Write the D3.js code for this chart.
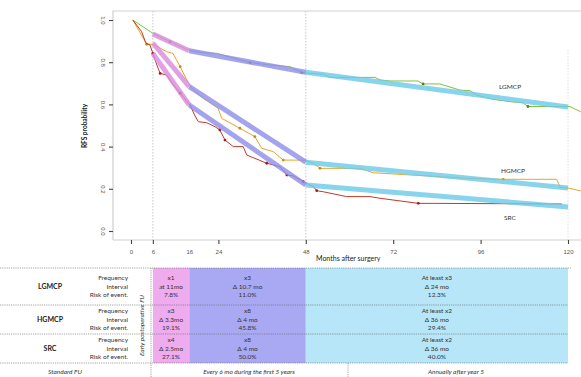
<!DOCTYPE html>
<html lang="en">
<head>
<meta charset="UTF-8">
<title>RFS probability and follow-up schedule</title>
<script src="https://d3js.org/d3.v7.min.js"></script>
<style>
  body { margin: 0; background: #fff; }
  svg { display: block; font-family: Lato, "Open Sans", sans-serif; }
</style>
</head>
<body>
<svg id="chart" width="581" height="377"></svg>
<script>
// ---- data ----
const groups = ['LGMCP', 'HGMCP', 'SRC'];

const lgmcpMonths = [0.5, 6, 10.7, 16.2, 19.8, 23.5, 32.7, 38.2, 43.7, 46.9, 52.7, 54.6, 67, 68.4, 71.1, 78.8, 80.2, 84.8, 90.3, 93.1, 94.9, 99.4, 104.1, 107.6, 109, 120.5, 123.5];
const lgmcpSurv   = [1.0, 0.937, 0.897, 0.855, 0.845, 0.842, 0.798, 0.787, 0.779, 0.750, 0.744, 0.728, 0.728, 0.716, 0.711, 0.711, 0.697, 0.697, 0.668, 0.665, 0.645, 0.624, 0.613, 0.608, 0.590, 0.590, 0.565];
const lgmcpMarks  = [10.7, 32.7, 46.9, 80.2, 109];

const hgmcpMonths = [0.5, 4.3, 6, 9.8, 11.5, 13.5, 15.3, 16.7, 19.8, 23.9, 24.9, 29.9, 34, 35.9, 39.1, 41.8, 47.8, 50.1, 51.9, 62.9, 66.5, 92.2, 102.2, 116.9, 117.8, 120.5, 123.5];
const hgmcpSurv   = [1.0, 0.885, 0.885, 0.850, 0.842, 0.779, 0.716, 0.676, 0.629, 0.582, 0.534, 0.487, 0.447, 0.392, 0.376, 0.336, 0.336, 0.321, 0.297, 0.297, 0.276, 0.250, 0.245, 0.245, 0.207, 0.202, 0.190];
const hgmcpMarks  = [4.3, 13.5, 29.9, 34, 41.8, 51.9, 102.2];

const srcMonths = [0.5, 2.9, 4.1, 5.2, 6, 7.1, 8, 9.8, 11.6, 13.5, 16.2, 17.6, 18.5, 20.8, 23.1, 24.4, 25.8, 28.1, 30.8, 31.8, 37.3, 40.9, 42.8, 44.6, 47.3, 50.1, 51, 52.8, 59.2, 65.6, 68.4, 78.9, 83, 118.3];
const srcSurv   = [1.0, 0.945, 0.890, 0.882, 0.842, 0.787, 0.747, 0.739, 0.692, 0.653, 0.597, 0.545, 0.518, 0.513, 0.494, 0.479, 0.431, 0.400, 0.400, 0.360, 0.321, 0.305, 0.265, 0.261, 0.234, 0.210, 0.191, 0.186, 0.163, 0.163, 0.155, 0.131, 0.131, 0.128];
const srcMarks  = [6, 8, 13.5, 24.4, 25.8, 37.3, 42.8, 47.3, 51, 78.9];

// piecewise fits: values at the phase breaks
const phaseBreaks = [6, 16, 48, 120];
const lgmcpFit = [0.934, 0.854, 0.752, 0.588];
const hgmcpFit = [0.891, 0.684, 0.326, 0.204];
const srcFit   = [0.842, 0.597, 0.218, 0.114];

const xTicks = [0, 6, 16, 24, 48, 72, 96, 120];
const yTicks = [0, 0.2, 0.4, 0.6, 0.8, 1.0];

// follow-up table
const rowLabels = ['Frequency', 'Interval', 'Risk of event.'];
const lgmcpCells = [['x1', 'at 11mo', '7.8%'], ['x3', 'Δ 10.7 mo', '11.0%'], ['At least x3', 'Δ 24 mo', '12.3%']];
const hgmcpCells = [['x3', 'Δ 3.3mo', '19.1%'], ['x8', 'Δ 4 mo', '45.8%'], ['At least x2', 'Δ 36 mo', '29.4%']];
const srcCells   = [['x4', 'Δ 2.5mo', '27.1%'], ['x8', 'Δ 4 mo', '50.0%'], ['At least  x2', 'Δ 36 mo', '40.0%']];
const footer = ['Standard FU', 'Every 6 mo during the first 5 years', 'Annually after year 5'];

// ---- drawing ----
const svg = d3.select('#chart');
const x = d3.scaleLinear().domain([0, 120]).range([131, 568]);
const y = d3.scaleLinear().domain([0, 1]).range([231, 20]);
const frame = { left: 113, top: 11, bottom: 240 };

const curveColors = ['#86bf3a', '#e6a526', '#c0392b'];
const markColors = ['#4f7f25', '#c98a12', '#9c1d1d'];
const phaseColors = ['#d98bdc', '#8f8fea', '#6ccbe8'];
const cellFills = ['#eeabee', '#a9a9f3', '#b6e6f7'];

const series = [
    { name: 'LGMCP', months: lgmcpMonths, surv: lgmcpSurv, marks: lgmcpMarks, fit: lgmcpFit, cells: lgmcpCells },
    { name: 'HGMCP', months: hgmcpMonths, surv: hgmcpSurv, marks: hgmcpMarks, fit: hgmcpFit, cells: hgmcpCells },
    { name: 'SRC', months: srcMonths, surv: srcSurv, marks: srcMarks, fit: srcFit, cells: srcCells }
];

// frame
svg.append('path')
    .attr('d', `M${frame.left},${frame.bottom}V${frame.top}H590`)
    .attr('fill', 'none').attr('stroke', '#cfcfcf').attr('stroke-width', 1.2);

// phase guides
[6, 48].forEach(m => {
    svg.append('line')
        .attr('x1', x(m)).attr('x2', x(m)).attr('y1', frame.top).attr('y2', frame.bottom)
        .attr('stroke', '#c8c8c8').attr('stroke-dasharray', '1.5,1.5');
});
svg.append('line')
    .attr('x1', x(120)).attr('x2', x(120)).attr('y1', 50).attr('y2', frame.bottom)
    .attr('stroke', '#dedede').attr('stroke-dasharray', '1.5,1.5');

// x axis
const xAxis = svg.append('g')
    .attr('transform', `translate(0,${frame.bottom})`)
    .call(d3.axisBottom(x).tickValues(xTicks).tickSize(4).tickPadding(6));
xAxis.select('.domain').attr('stroke', '#cfcfcf').attr('d', `M${frame.left},0H590`);
xAxis.selectAll('.tick line').attr('stroke', '#444').attr('stroke-width', 1.1)
    .filter(d => d === 16).remove();
xAxis.selectAll('.tick text').attr('fill', '#555').style('font-size', '6px');

svg.append('text')
    .attr('x', 316).attr('y', 261)
    .attr('fill', '#222').style('font-size', '7px')
    .text('Months after surgery');

// y axis
const yAxis = svg.append('g')
    .attr('transform', `translate(${frame.left},0)`)
    .call(d3.axisLeft(y).tickValues(yTicks).tickFormat(d3.format('.1f')).tickSize(4).tickPadding(0));
yAxis.select('.domain').remove();
yAxis.selectAll('.tick line').attr('stroke', '#444').attr('stroke-width', 1.1);
yAxis.selectAll('.tick text')
    .attr('fill', '#555').style('font-size', '6px')
    .attr('text-anchor', 'middle')
    .attr('transform', 'translate(-10,0) rotate(90)')
    .attr('x', 0).attr('dy', '0.35em');

svg.append('text')
    .attr('transform', 'translate(87,126) rotate(-90)')
    .attr('text-anchor', 'middle')
    .attr('fill', '#222').style('font-size', '6.5px').style('font-weight', 'bold')
    .text('RFS probability');

// KM-style curves
const line = d3.line().x(d => x(d[0])).y(d => y(d[1]));
series.forEach((s, i) => {
    const pts = s.months.map((m, k) => [m, s.surv[k]]);
    svg.append('path')
        .attr('d', line(pts))
        .attr('fill', 'none').attr('stroke', curveColors[i]).attr('stroke-width', 1);
    svg.selectAll(null)
        .data(s.marks.map(m => pts.find(p => p[0] === m)))
        .enter().append('circle')
        .attr('cx', d => x(d[0])).attr('cy', d => y(d[1])).attr('r', 1.4)
        .attr('fill', markColors[i]);
});

// piecewise fits by phase
series.forEach(s => {
    d3.range(3).forEach(p => {
        svg.append('path')
            .attr('d', line([[phaseBreaks[p], s.fit[p]], [phaseBreaks[p + 1], s.fit[p + 1]]]))
            .attr('stroke', phaseColors[p]).attr('stroke-width', 5)
            .attr('stroke-opacity', 0.82).attr('fill', 'none');
    });
});

// curve labels
const labelPos = [[510, 89], [513, 173], [510, 220]];
series.forEach((s, i) => {
    svg.append('text')
        .attr('x', labelPos[i][0]).attr('y', labelPos[i][1])
        .attr('text-anchor', 'middle')
        .attr('fill', '#333').style('font-size', '6.5px')
        .text(s.name);
});

// ---- table ----
const rowEdges = [268, 305, 334, 363];
const lineGap = 8.7;

series.forEach((s, g) => {
    const top = rowEdges[g], bottom = rowEdges[g + 1], mid = (top + bottom) / 2;
    d3.range(3).forEach(p => {
        svg.append('rect')
            .attr('x', x(phaseBreaks[p])).attr('y', top)
            .attr('width', x(phaseBreaks[p + 1]) - x(phaseBreaks[p])).attr('height', bottom - top)
            .attr('fill', cellFills[p]);
        const cx = (x(phaseBreaks[p]) + x(phaseBreaks[p + 1])) / 2;
        s.cells[p].forEach((t, k) => {
            svg.append('text')
                .attr('x', cx).attr('y', mid + (k - 1) * lineGap).attr('dy', '0.35em')
                .attr('text-anchor', 'middle')
                .attr('fill', '#333').style('font-size', '6.5px')
                .text(t);
        });
    });
    svg.append('text')
        .attr('x', 50).attr('y', mid).attr('dy', '0.35em')
        .attr('text-anchor', 'middle')
        .attr('fill', '#222').style('font-size', '7px').style('font-weight', 'bold')
        .text(s.name);
    rowLabels.forEach((t, k) => {
        svg.append('text')
            .attr('x', 128).attr('y', mid + (k - 1) * lineGap).attr('dy', '0.35em')
            .attr('text-anchor', 'end')
            .attr('fill', '#333').style('font-size', '6.5px')
            .text(t);
    });
});

// table rules
rowEdges.forEach(r => {
    svg.append('line')
        .attr('x1', 0).attr('x2', r === rowEdges[0] ? 572 : 568).attr('y1', r).attr('y2', r)
        .attr('stroke', '#666').attr('stroke-width', 0.6).attr('stroke-dasharray', '1.2,1');
});
svg.append('line')
    .attr('x1', 151).attr('x2', 151).attr('y1', rowEdges[0]).attr('y2', 377)
    .attr('stroke', '#666').attr('stroke-width', 0.6).attr('stroke-dasharray', '1.2,1');
svg.append('line')
    .attr('x1', 348).attr('x2', 348).attr('y1', rowEdges[3]).attr('y2', 377)
    .attr('stroke', '#666').attr('stroke-width', 0.6).attr('stroke-dasharray', '1.2,1');

svg.append('text')
    .attr('transform', `translate(142,${(rowEdges[0] + rowEdges[3]) / 2 + 10}) rotate(-90)`)
    .attr('text-anchor', 'middle').attr('dy', '0.35em')
    .attr('fill', '#333').style('font-size', '6.5px').style('font-style', 'italic')
    .text('Early postoperative FU');

const footX = [65, 249, 456];
footer.forEach((t, i) => {
    svg.append('text')
        .attr('x', footX[i]).attr('y', 372).attr('dy', '0.35em')
        .attr('text-anchor', 'middle')
        .attr('fill', '#333').style('font-size', '6.5px').style('font-style', 'italic')
        .text(t);
});
</script>
</body>
</html>
